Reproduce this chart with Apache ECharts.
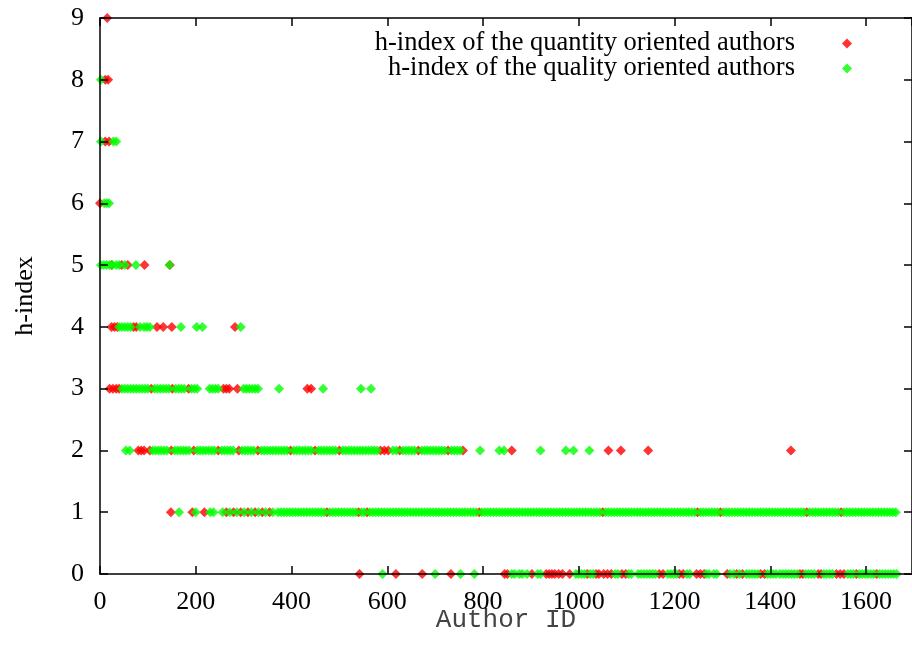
<!DOCTYPE html>
<html><head><meta charset="utf-8">
<script src="https://cdn.jsdelivr.net/npm/echarts@6/dist/echarts.min.js"></script>
<style>html,body{margin:0;padding:0;background:#fff}#c{width:912px;height:653px}</style>
</head><body><div id="c"></div>
<script>
// Axis settings
const xTickInterval = 200;
const xMax = 1696;
const yLevels = [0, 1, 2, 3, 4, 5, 6, 7, 8, 9];

const seriesNames = ['h-index of the quantity oriented authors', 'h-index of the quality oriented authors'];

// Quantity oriented authors: author IDs at each h-index level
const qty0 = [542, 618, 673, 733, 845, 851, 902, 932, 938, 944, 950, 958, 966, 981, 1018, 1036, 1042, 1052, 1060, 1068, 1090, 1098, 1168, 1176, 1210, 1218, 1246, 1254, 1262, 1310, 1330, 1342, 1380, 1388, 1462, 1468, 1500, 1506, 1538, 1546, 1554, 1580, 1622];
const qty1 = [148, 193, 218, 264, 279, 294, 309, 324, 339, 354, 474, 540, 558, 792, 1050, 1248, 1296, 1476, 1548];
const qty2 = [80, 86, 92, 104, 149, 196, 247, 290, 330, 398, 449, 500, 586, 594, 602, 626, 665, 727, 758, 860, 1062, 1088, 1145, 1443];
const qty3 = [20, 27, 34, 40, 107, 151, 185, 258, 264, 270, 287, 433, 441];
const qty4 = [24, 30, 36, 70, 76, 119, 132, 150, 282];
const qty5 = [24, 45, 58, 93, 146];
const qty6 = [0];
const qty7 = [11, 19];
const qty8 = [11, 17];
const qty9 = [15];

// Quality oriented authors: author IDs at each h-index level
const qly0 = [590, 700, 753, 782, 860, 866, 876, 882, 892, 914, 920, 994, 1000, 1006, 1012, 1024, 1030, 1076, 1082, 1104, 1110, 1124, 1130, 1136, 1142, 1148, 1154, 1160, 1186, 1192, 1198, 1204, 1226, 1232, 1266, 1272, 1282, 1288, 1316, 1324, 1336, 1350, 1356, 1362, 1368, 1374, 1394, 1400, 1406, 1412, 1420, 1426, 1432, 1438, 1444, 1450, 1456, 1474, 1480, 1486, 1492, 1512, 1518, 1524, 1530, 1562, 1568, 1574, 1586, 1592, 1598, 1604, 1610, 1616, 1628, 1634, 1640, 1646, 1652, 1658, 1664];
const qly1 = [165, 200, 230, 237, 256, 271, 286, 301, 316, 331, 346, 361,
  372, 378, 384, 390, 396, 402, 408, 414, 420, 426, 432, 438, 444, 450, 456, 462, 468, 480, 486, 492, 498, 504, 510, 516, 522, 528, 534, 546, 552, 564, 570, 576, 582, 588, 594, 600,
  606, 612, 618, 624, 630, 636, 642, 648, 654, 660, 666, 672, 678, 684, 690, 696, 702, 708, 714, 720, 726, 732, 738, 744, 750, 756, 762, 768, 774, 780, 786, 798, 804,
  810, 816, 822, 828, 834, 840, 846, 852, 858, 864, 870, 876, 882, 888, 894, 900, 906, 912, 918, 924, 930, 936, 942, 948, 954, 960, 966, 972, 978, 984, 990, 996, 1002,
  1008, 1014, 1020, 1026, 1032, 1038, 1044, 1056, 1062, 1068, 1074, 1080, 1086, 1092, 1098, 1104, 1110, 1116, 1122, 1128, 1134, 1140, 1146, 1152, 1158, 1164, 1170, 1176,
  1182, 1188, 1194, 1200, 1206, 1212, 1218, 1224, 1230, 1236, 1242, 1254, 1260, 1266, 1272, 1278, 1284, 1290, 1302, 1308, 1314, 1320, 1326, 1332, 1338, 1344, 1350, 1356,
  1362, 1368, 1374, 1380, 1386, 1392, 1398, 1404, 1410, 1416, 1422, 1428, 1434, 1440, 1446, 1452, 1458, 1464, 1470, 1482, 1488, 1494, 1500, 1506, 1512, 1518, 1524, 1530,
  1536, 1542, 1554, 1560, 1566, 1572, 1578, 1584, 1590, 1596, 1602, 1608, 1614, 1620, 1626, 1632, 1638, 1644, 1650, 1656, 1662];
const qly2 = [54, 62, 110, 116, 122, 128, 134, 140, 156, 162, 168, 174, 180, 186, 203, 209, 215, 221, 227, 233, 239, 254, 260, 266, 272, 278,
  297, 303, 309, 315, 321, 337, 343, 349, 355, 361, 367, 373, 379, 385, 391, 405, 411, 417, 423, 429, 435, 441, 456, 462, 468, 474, 480, 486, 492,
  507, 513, 519, 525, 531, 537, 543, 549, 555, 561, 567, 573, 579, 612, 619, 633, 639, 645, 651, 657, 672, 678, 684, 690, 696, 702, 708, 714, 720,
  734, 740, 746, 752, 794, 834, 844, 920, 973, 989, 1022];
const qly3 = [46, 52, 58, 64, 70, 76, 82, 88, 94, 100, 114, 120, 126, 132, 138, 144, 158, 164, 170, 176, 191, 197, 203, 229, 235, 241, 247, 300, 306, 312, 318, 324, 330, 374, 466, 545, 566];
const qly4 = [40, 46, 52, 58, 64, 84, 92, 98, 104, 169, 202, 214, 294];
const qly5 = [2, 8, 14, 20, 26, 34, 40, 52, 75, 145];
const qly6 = [9, 14, 19];
const qly7 = [2, 28, 34];
const qly8 = [2];
const qly9 = [];

const quantityLevels = [qty0, qty1, qty2, qty3, qty4, qty5, qty6, qty7, qty8, qty9];
const qualityLevels = [qly0, qly1, qly2, qly3, qly4, qly5, qly6, qly7, qly8, qly9];

function toPoints(lists) {
  const pts = [];
  lists.forEach((ids, i) => ids.forEach(id => pts.push([id, yLevels[i]])));
  return pts;
}

const serif = 'Liberation Serif';
const axisLineStyle = { color: '#000', width: 1.5 };
const tickStyle = { color: '#000', width: 1.5 };

const chart = echarts.init(document.getElementById('c'), null, { renderer: 'canvas' });
chart.setOption({
  animation: false,
  backgroundColor: '#fff',
  grid: { left: 100, right: 0, top: 18, bottom: 79, containLabel: false },
  legend: {
    orient: 'vertical', right: 55, top: 25, align: 'right',
    icon: 'diamond', itemWidth: 10, itemHeight: 10, itemGap: -2,
    textStyle: { fontFamily: serif, fontSize: 26.5, color: '#000', lineHeight: 22, padding: [0, 42, 0, 0] },
    data: seriesNames
  },
  xAxis: [{
    type: 'value', min: 0, max: xMax, interval: xTickInterval, position: 'bottom', z: 5,
    name: 'Author ID', nameLocation: 'middle', nameGap: 33, nameMoveOverlap: false,
    nameTextStyle: { fontFamily: 'Liberation Mono', fontSize: 26, color: '#444' },
    axisLine: { show: true, onZero: false, lineStyle: axisLineStyle },
    axisTick: { show: true, inside: true, length: 8, lineStyle: tickStyle },
    axisLabel: { fontFamily: serif, fontSize: 26, color: '#000', margin: 15, showMaxLabel: false,
      formatter: v => String(v) },
    splitLine: { show: false }
  }, {
    type: 'value', min: 0, max: xMax, interval: xTickInterval, position: 'top', z: 5,
    axisLine: { show: true, onZero: false, lineStyle: axisLineStyle },
    axisTick: { show: true, inside: true, length: 8, lineStyle: tickStyle },
    axisLabel: { show: false },
    splitLine: { show: false }
  }],
  yAxis: [{
    type: 'value', min: 0, max: 9, interval: 1, position: 'left', z: 5,
    name: 'h-index', nameLocation: 'middle', nameGap: 62,
    nameTextStyle: { fontFamily: serif, fontSize: 26, color: '#000' },
    axisLine: { show: true, onZero: false, lineStyle: axisLineStyle },
    axisTick: { show: true, inside: true, length: 8, lineStyle: tickStyle },
    axisLabel: { fontFamily: serif, fontSize: 26, color: '#000', margin: 16 },
    splitLine: { show: false }
  }, {
    type: 'value', min: 0, max: 9, interval: 1, position: 'right', z: 5,
    axisLine: { show: true, onZero: false, lineStyle: axisLineStyle },
    axisTick: { show: true, inside: true, length: 8, lineStyle: tickStyle },
    axisLabel: { show: false },
    splitLine: { show: false }
  }],
  series: [{
    name: seriesNames[0], type: 'scatter', symbol: 'diamond', symbolSize: 10,
    itemStyle: { color: '#ff0000' }, data: toPoints(quantityLevels), silent: true
  }, {
    name: seriesNames[1], type: 'scatter', symbol: 'diamond', symbolSize: 10,
    itemStyle: { color: '#00ff00' }, data: toPoints(qualityLevels), silent: true
  }]
});
</script>
</body></html>
